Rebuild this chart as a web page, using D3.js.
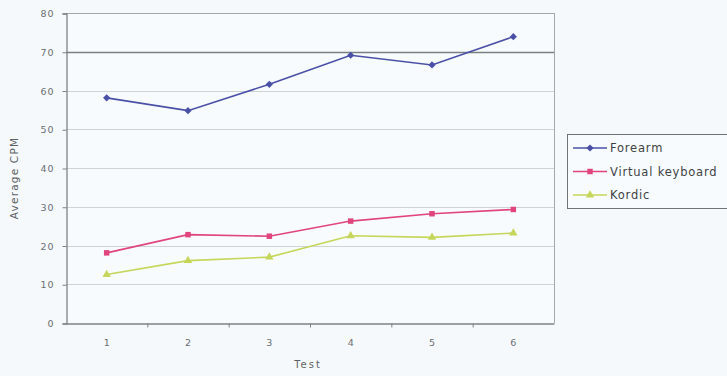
<!DOCTYPE html>
<html>
<head>
<meta charset="utf-8">
<script src="https://cdn.jsdelivr.net/npm/d3@7"></script>
<style>
  html, body { margin: 0; padding: 0; background: #f5f9fc; }
  svg { display: block; }
  text { font-family: "DejaVu Sans", Verdana, sans-serif; }
</style>
</head>
<body>
<svg id="chart" width="727" height="376"></svg>
<script>
// Test sessions and average characters-per-minute for each input method
const tests = ["1", "2", "3", "4", "5", "6"];
const forearm = [58.1, 54.8, 61.6, 69.1, 66.6, 73.9];
const virtualKeyboard = [18.1, 22.8, 22.4, 26.3, 28.2, 29.3];
const kordic = [12.5, 16.1, 17.0, 22.5, 22.1, 23.2];
const yTicks = [0, 10, 20, 30, 40, 50, 60, 70, 80];
const seriesNames = ["Forearm", "Virtual keyboard", "Kordic"];

// diamond markers are squares turned by 45 degrees
const series = [
  { name: seriesNames[0], values: forearm, color: "#4a50a6", shape: d3.symbolSquare, rot: 45, size: 26 },
  { name: seriesNames[1], values: virtualKeyboard, color: "#e0457c", shape: d3.symbolSquare, rot: 0, size: 30 },
  { name: seriesNames[2], values: kordic, color: "#c6d65a", shape: d3.symbolTriangle, rot: 0, size: 30 }
];

const svg = d3.select("#chart");
const plot = { left: 66, right: 554, top: 13, bottom: 323 };

const x = d3.scaleBand().domain(tests).range([plot.left, plot.right]);
const y = d3.scaleLinear().domain([0, 80]).range([plot.bottom, plot.top]);

// plot area background
svg.append("rect")
  .attr("x", plot.left).attr("y", plot.top)
  .attr("width", plot.right - plot.left).attr("height", plot.bottom - plot.top)
  .attr("fill", "#f7fbfd");

// horizontal gridlines
svg.append("g").selectAll("line")
  .data(yTicks.filter(t => t > 0))
  .join("line")
  .attr("x1", plot.left).attr("x2", plot.right)
  .attr("y1", d => Math.round(y(d)) + 0.5).attr("y2", d => Math.round(y(d)) + 0.5)
  .attr("stroke", d => d === 70 ? "#7a7f84" : (d === 80 ? "#a4a8ac" : "#cfd3d6"))
  .attr("stroke-width", d => d === 70 ? 1.3 : 1);

// right border
svg.append("line")
  .attr("x1", plot.right + 0.5).attr("x2", plot.right + 0.5)
  .attr("y1", plot.top).attr("y2", plot.bottom)
  .attr("stroke", "#a4a8ac");

// y axis
const yAxis = svg.append("g")
  .attr("transform", `translate(${plot.left + 0.5},0.5)`)
  .call(d3.axisLeft(y).tickValues(yTicks).tickSize(4).tickPadding(8));
yAxis.select(".domain").attr("stroke", "#7d8286").attr("stroke-width", 1.3);
yAxis.selectAll(".tick line").attr("stroke", "#7d8286");
yAxis.selectAll("text").attr("fill", "#6b6f73").style("font-size", "9.5px").style("letter-spacing", "1px");

// x axis with ticks between categories
const xAxis = svg.append("g")
  .attr("transform", `translate(0,${plot.bottom + 0.5})`)
  .call(d3.axisBottom(x).tickSize(0).tickPadding(16));
xAxis.select(".domain").attr("stroke", "#7d8286").attr("stroke-width", 1.3);
xAxis.selectAll("text").attr("fill", "#6b6f73").style("font-size", "9.5px");
xAxis.append("g").selectAll("line")
  .data(tests.slice(1))
  .join("line")
  .attr("x1", d => x(d) + 0.5).attr("x2", d => x(d) + 0.5)
  .attr("y1", 0).attr("y2", 4)
  .attr("stroke", "#7d8286");

// axis titles
svg.append("text")
  .attr("x", 308).attr("y", 368)
  .attr("text-anchor", "middle")
  .attr("fill", "#5f6367")
  .style("font-size", "10px").style("letter-spacing", "2px")
  .text("Test");
svg.append("text")
  .attr("transform", "translate(18,178) rotate(-90)")
  .attr("text-anchor", "middle")
  .attr("fill", "#5f6367")
  .style("font-size", "10.5px").style("letter-spacing", "1.2px")
  .text("Average CPM");

// series lines and markers
const line = d3.line()
  .x((d, i) => x(tests[i]) + x.bandwidth() / 2)
  .y(d => y(d));

series.forEach(s => {
  svg.append("path")
    .datum(s.values)
    .attr("d", line)
    .attr("fill", "none")
    .attr("stroke", s.color)
    .attr("stroke-width", 1.6);
  svg.append("g").selectAll("path")
    .data(s.values)
    .join("path")
    .attr("transform", (d, i) => `translate(${x(tests[i]) + x.bandwidth() / 2},${y(d)}) rotate(${s.rot})`)
    .attr("d", d3.symbol().type(s.shape).size(s.size))
    .attr("fill", s.color);
});

// legend
const legend = svg.append("g");
legend.append("rect")
  .attr("x", 567.5).attr("y", 134.5)
  .attr("width", 170).attr("height", 74)
  .attr("fill", "#f7fbfd")
  .attr("stroke", "#6f7377");
series.forEach((s, i) => {
  const ly = 148 + i * 23.5;
  legend.append("line")
    .attr("x1", 573).attr("x2", 607)
    .attr("y1", ly).attr("y2", ly)
    .attr("stroke", s.color).attr("stroke-width", 1.6);
  legend.append("path")
    .attr("transform", `translate(590,${ly}) rotate(${s.rot})`)
    .attr("d", d3.symbol().type(s.shape).size(s.size))
    .attr("fill", s.color);
  legend.append("text")
    .attr("x", 610).attr("y", ly + 4)
    .attr("fill", "#3f4346")
    .style("font-size", "11.5px").style("letter-spacing", "0.8px")
    .text(s.name);
});
</script>
</body>
</html>
